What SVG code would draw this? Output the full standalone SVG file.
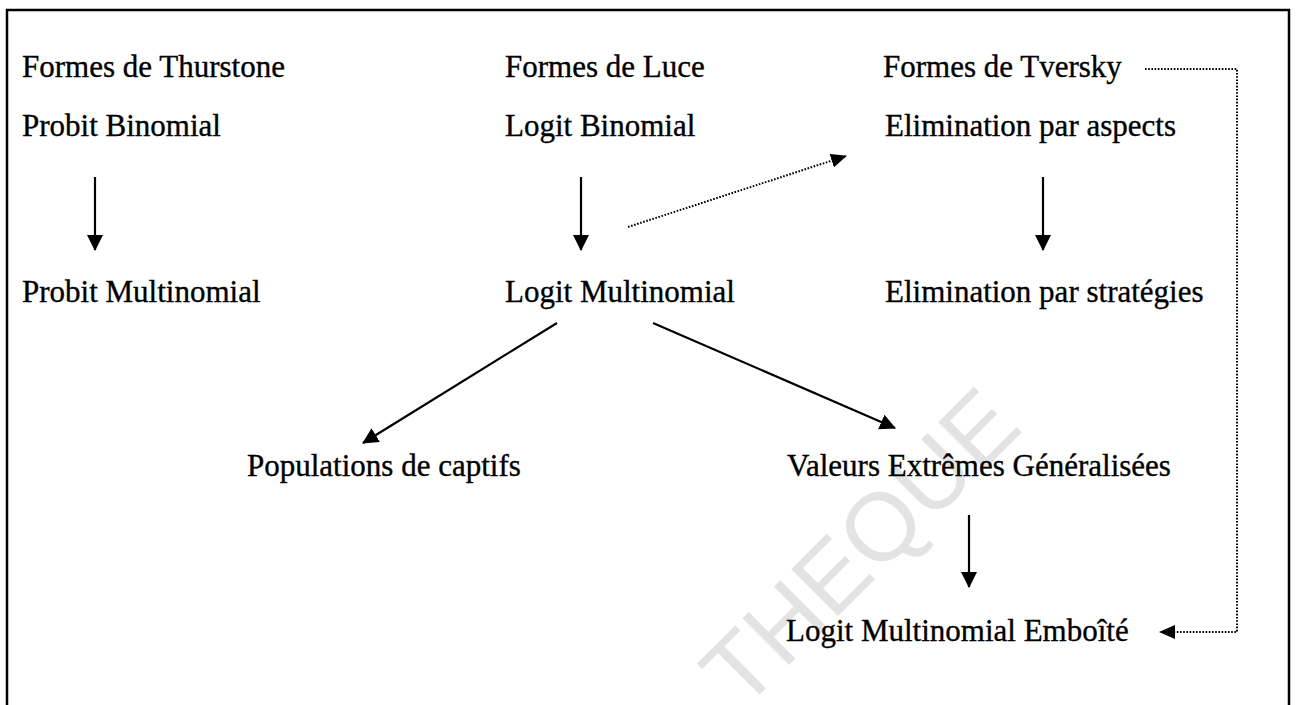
<svg xmlns="http://www.w3.org/2000/svg" width="1297" height="705" viewBox="0 0 1297 705">
  <style>
    .lbl { font-family: "Liberation Serif", "Times New Roman", serif; font-size: 31px; fill: #000; stroke: #000; stroke-width: 0.35; }
    .solid { fill: none; stroke: #000; stroke-width: 2.2; }
    .dotted { fill: none; stroke: #000; stroke-width: 2; stroke-dasharray: 1.6 1.6; }
    .mark { font-family: "Liberation Sans", Arial, sans-serif; font-size: 96px; fill: #e3e3e3; }
  </style>
  <defs>
    <marker id="head" viewBox="0 0 16 16" markerWidth="16" markerHeight="16" refX="15" refY="8" orient="auto" markerUnits="userSpaceOnUse">
      <path d="M0,0 L16,8 L0,16 z" fill="#000"/>
    </marker>
    <marker id="headSmall" viewBox="0 0 16 14" markerWidth="16" markerHeight="14" refX="15" refY="7" orient="auto" markerUnits="userSpaceOnUse">
      <path d="M0,0 L16,7 L0,14 z" fill="#000"/>
    </marker>
  </defs>

  <rect width="1297" height="705" fill="#fff"/>

  <!-- background stamp -->
  <text class="mark" x="742" y="712" transform="rotate(-45 742 712)">THEQUE</text>

  <!-- frame, open at the bottom -->
  <path d="M7,705 V10 H1289 V705" fill="none" stroke="#000" stroke-width="2.5"/>

  <!-- connectors -->
  <g id="connectors">
    <line class="solid" x1="95" y1="177" x2="95" y2="250" marker-end="url(#head)"/>
    <line class="solid" x1="581" y1="177" x2="581" y2="250" marker-end="url(#head)"/>
    <line class="solid" x1="1043" y1="177" x2="1043" y2="250" marker-end="url(#head)"/>
    <line class="dotted" x1="628" y1="227" x2="846" y2="156" marker-end="url(#headSmall)"/>
    <line class="solid" x1="557" y1="323" x2="363" y2="443" marker-end="url(#head)"/>
    <line class="solid" x1="653" y1="323" x2="895" y2="428" marker-end="url(#head)"/>
    <line class="solid" x1="969" y1="515" x2="969" y2="587" marker-end="url(#head)"/>
    <polyline class="dotted" points="1145,69 1237,69 1237,632 1160,632" marker-end="url(#headSmall)"/>
  </g>

  <!-- nodes -->
  <g id="formes-thurstone"><text class="lbl" x="22" y="77">Formes de Thurstone</text></g>
  <g id="formes-luce"><text class="lbl" x="505" y="77">Formes de Luce</text></g>
  <g id="formes-tversky"><text class="lbl" x="883" y="77">Formes de Tversky</text></g>
  <g id="probit-binomial"><text class="lbl" x="22" y="136">Probit Binomial</text></g>
  <g id="logit-binomial"><text class="lbl" x="505" y="136">Logit Binomial</text></g>
  <g id="elim-aspects"><text class="lbl" x="885" y="136">Elimination par aspects</text></g>
  <g id="probit-multinomial"><text class="lbl" x="22" y="302">Probit Multinomial</text></g>
  <g id="logit-multinomial"><text class="lbl" x="505" y="302">Logit Multinomial</text></g>
  <g id="elim-strategies"><text class="lbl" x="885" y="302">Elimination par stratégies</text></g>
  <g id="populations-captifs"><text class="lbl" x="247" y="476">Populations de captifs</text></g>
  <g id="valeurs-extremes"><text class="lbl" x="787" y="476">Valeurs Extrêmes Généralisées</text></g>
  <g id="logit-emboite"><text class="lbl" x="786" y="641">Logit Multinomial Emboîté</text></g>
</svg>
